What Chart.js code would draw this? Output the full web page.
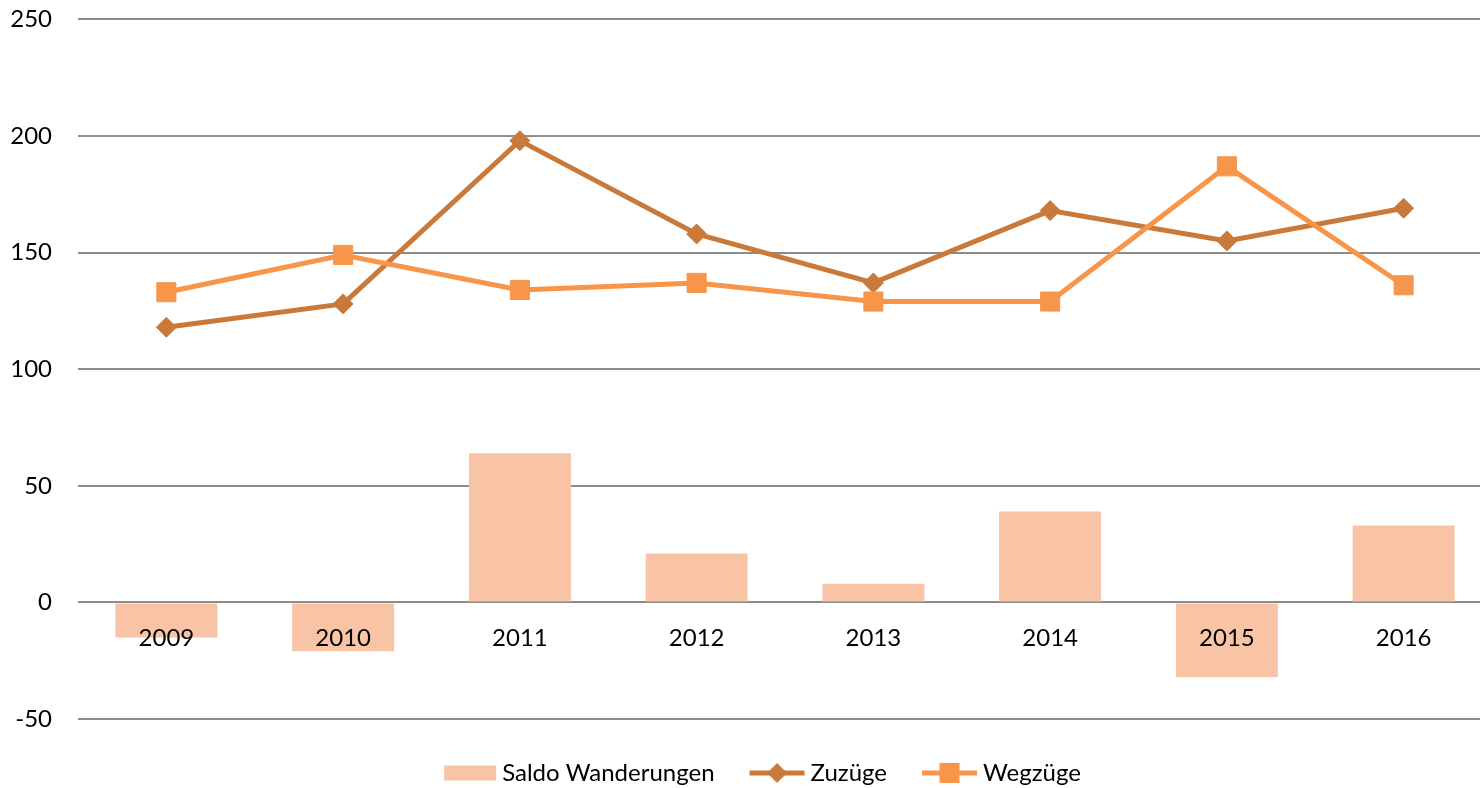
<!DOCTYPE html>
<html><head><meta charset="utf-8">
<script src="https://cdn.jsdelivr.net/npm/chart.js@4.4.0/dist/chart.umd.min.js"></script>
<style>
html,body{margin:0;padding:0;background:#fff;overflow:hidden;width:1480px;height:788px;position:relative}
#wrap{position:absolute;left:0;top:-21px;width:1497px;height:820px}
</style></head><body>
<div id="wrap"><canvas id="c" width="1497" height="820"></canvas></div>
<script>
const years = ['2009','2010','2011','2012','2013','2014','2015','2016'];
const saldo = [-15, -21, 64, 21, 8, 39, -32, 33];
const zuzuege = [118, 128, 198, 158, 137, 168, 155, 169];
const wegzuege = [133, 149, 134, 137, 129, 129, 187, 136];
const yMin = -50, yMax = 250, yStep = 50;
const seriesNames = ['Saldo Wanderungen', 'Zuzüge', 'Wegzüge'];

const cBar = '#F9C3A6', cZu = '#C97A3A', cWeg = '#F7964A';
const FONT = {family: 'Lato', size: 24};

function legendImg(kind, color) {
  const c = document.createElement('canvas');
  c.width = 96; c.height = 24;
  const g = c.getContext('2d');
  g.fillStyle = color; g.strokeStyle = color;
  const a = 36;
  if (kind === 'box') {
    g.fillRect(a + 3, 4.5, 52, 15);
  } else {
    g.lineWidth = 5;
    g.beginPath(); g.moveTo(a, 12); g.lineTo(a + 55, 12); g.stroke();
    const cx = a + 27.5;
    if (kind === 'diamond') {
      g.beginPath(); g.moveTo(cx - 10, 12); g.lineTo(cx, 2); g.lineTo(cx + 10, 12); g.lineTo(cx, 22); g.closePath(); g.fill();
    } else {
      g.fillRect(cx - 10, 2, 20, 20);
    }
  }
  return c;
}
const legImgs = [legendImg('box', cBar), legendImg('diamond', cZu), legendImg('square', cWeg)];

new Chart(document.getElementById('c'), {
  data: {
    labels: years,
    datasets: [
      {type: 'bar', label: seriesNames[0], data: saldo, backgroundColor: cBar,
       categoryPercentage: 1, barPercentage: 0.577, order: 3, xAxisID: 'x', yAxisID: 'y'},
      {type: 'line', label: seriesNames[1], data: zuzuege, borderColor: cZu, backgroundColor: cZu,
       borderWidth: 5, pointStyle: 'rectRot', pointRadius: 10, pointBorderWidth: 1,
       pointBackgroundColor: cZu, pointBorderColor: cZu, tension: 0, order: 2, xAxisID: 'x', yAxisID: 'y'},
      {type: 'line', label: seriesNames[2], data: wegzuege, borderColor: cWeg, backgroundColor: cWeg,
       borderWidth: 5, pointStyle: 'rect', pointRadius: 13.5, pointBorderWidth: 1,
       pointBackgroundColor: cWeg, pointBorderColor: cWeg, tension: 0, order: 1, xAxisID: 'x', yAxisID: 'y'}
    ]
  },
  options: {
    responsive: false,
    animation: false,
    layout: {autoPadding: false, padding: {left: 0, top: 5, right: 0, bottom: 4}},
    plugins: {
      tooltip: {enabled: false},
      legend: {
        position: 'bottom',
        labels: {
          font: FONT, color: '#000', usePointStyle: true, pointStyleWidth: 74, padding: 10,
          generateLabels: (chart) => seriesNames.map((n, i) => ({
            text: n, pointStyle: legImgs[i], datasetIndex: i, hidden: false,
            fillStyle: 'transparent', strokeStyle: 'transparent', lineWidth: 0, fontColor: '#000'
          }))
        }
      }
    },
    scales: {
      x: {
        type: 'category', position: {y: 0}, offset: true,
        grid: {display: false, drawTicks: false}, border: {display: false},
        ticks: {font: FONT, color: '#000', padding: 21, maxRotation: 0, autoSkip: false, z: 1}
      },
      x2: {
        type: 'category', position: 'bottom', display: true,
        grid: {display: false, drawTicks: false}, border: {display: false},
        ticks: {display: false},
        afterFit: (s) => { s.height = 32; }
      },
      y: {
        type: 'linear', position: 'left', min: yMin, max: yMax,
        ticks: {stepSize: yStep, font: FONT, color: '#000', padding: 26},
        grid: {color: '#8C8C8C', lineWidth: 2, drawTicks: false},
        border: {display: false},
        afterFit: (s) => { s.width = 78; }
      },
      y2: {
        type: 'linear', position: 'right', display: true,
        grid: {display: false, drawTicks: false}, border: {display: false},
        ticks: {display: false},
        afterFit: (s) => { s.width = 5; }
      }
    }
  }
});
</script>
</body></html>
